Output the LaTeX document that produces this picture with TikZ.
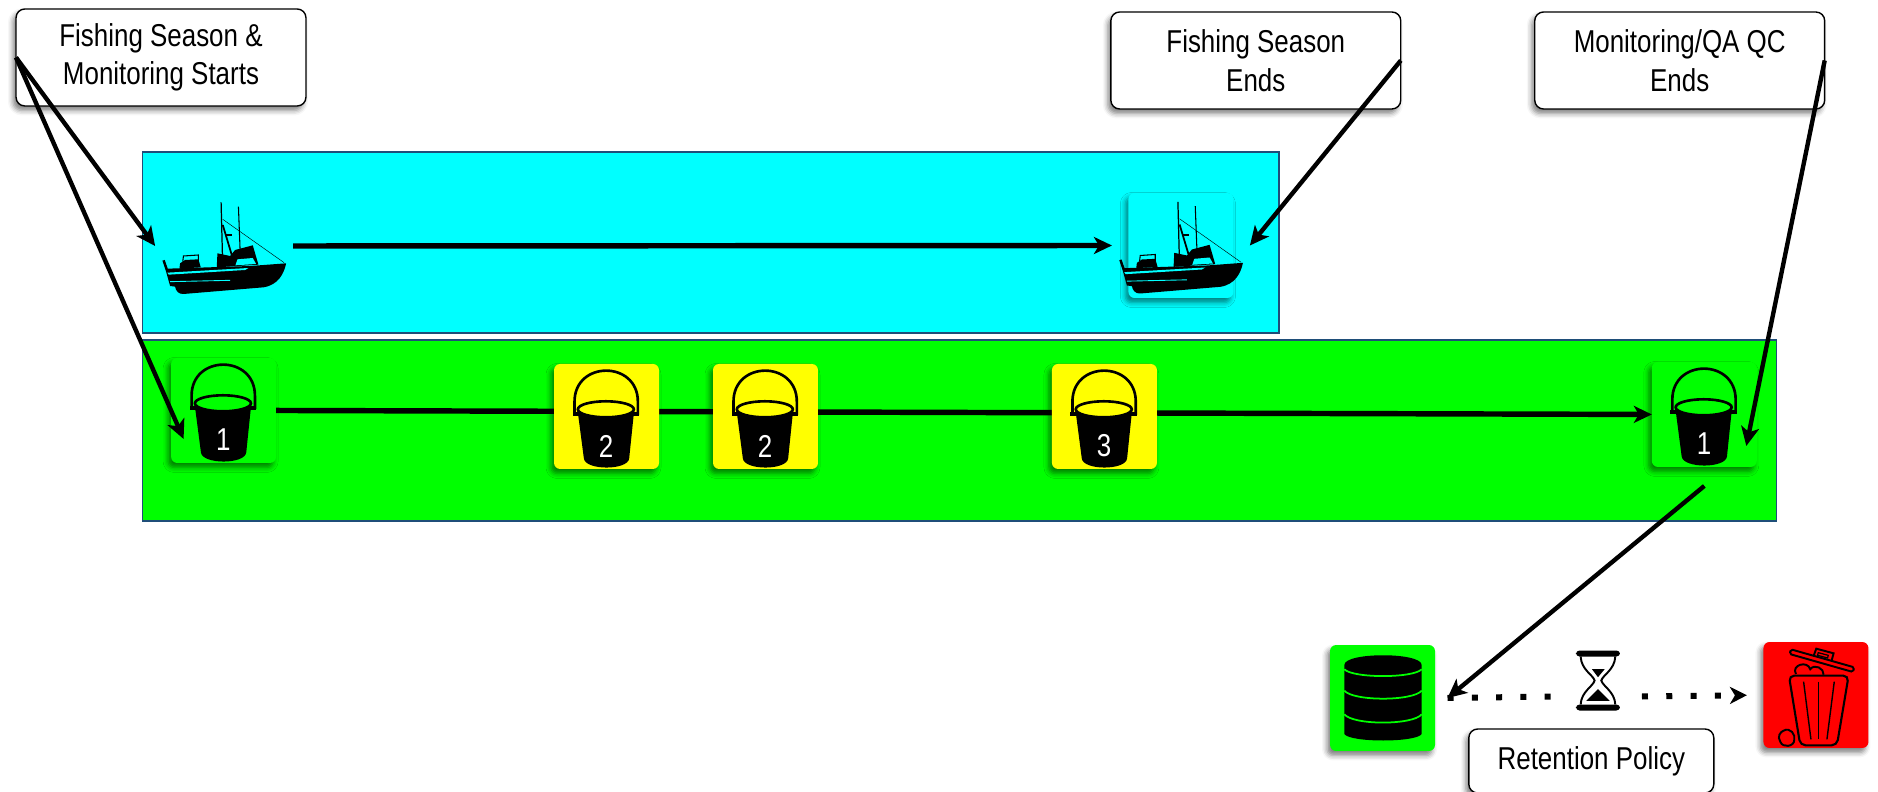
\documentclass[tikz,border=0pt]{standalone}
\usepackage{fontspec}
\setmainfont[FakeStretch=0.82]{Liberation Sans}
\usepackage{tikz}
\usetikzlibrary{positioning}
\usetikzlibrary{arrows.meta}
\usetikzlibrary{shadows.blur}
\definecolor{bandline}{HTML}{1F4E79}
\definecolor{seacyan}{RGB}{0,255,255}
\definecolor{okgreen}{RGB}{0,255,0}
\definecolor{warnyellow}{RGB}{255,255,0}
\definecolor{purgered}{RGB}{255,0,0}

\begin{document}
\begin{tikzpicture}[
        x=0.02cm, y=0.02cm,
        softshadow/.style={blur shadow={shadow xshift=-0.06cm, shadow yshift=-0.09cm, shadow blur radius=0.1cm, shadow opacity=50}},
        note/.style={rectangle, draw, fill=white, line width=0.8pt, rounded corners=5pt, minimum width=5.8cm, minimum height=1.94cm, align=center, outer sep=0pt, font=\fontsize{18}{22}\selectfont, execute at begin node={\vspace{0.14cm}}, softshadow},
        band/.style={rectangle, draw=bandline, line width=0.7pt, minimum height=3.62cm, outer sep=0pt},
        tile/.style={rectangle, rounded corners=3.5pt, minimum width=2.1cm, minimum height=2.1cm, outer sep=0pt, softshadow},
        port/.style={rectangle, minimum width=2.76cm, minimum height=2cm, outer sep=0pt},
        numeral/.style={text=white, inner sep=0pt, font=\fontsize{18}{18}\selectfont},
        arrow/.style={line width=2.5pt,-{Stealth[length=3.8mm,width=3.6mm,inset=1mm]}},
        mainline/.style={line width=3.1pt,-{Stealth[length=3.6mm,width=3.4mm,inset=1mm]}},
        dots/.style={line width=0.12cm, dash pattern=on 0.12cm off 0.366cm},
        pics/bucket/.style 2 args={code={
            \begin{scope}[xscale=1/3, yscale=-1/3, shift={(-200,-199.5)}]
                \draw[line width=1.5pt] (104,195) -- (104,155) .. controls (104,31) and (294,31) .. (294,155) -- (294,195);
                \fill (98,185) rectangle (298,198);
                \fill (113,180) -- (132,325) .. controls (135,362) and (265,362) .. (268,325) -- (283,180) -- cycle;
                \filldraw[fill=#2, line width=1.5pt] (198,178) ellipse[x radius=84, y radius=24];
                \node[numeral] (num) at (199,288) {#1};
            \end{scope}
        }},
        pics/boat/.style={code={
            \begin{scope}[xscale=1/3, yscale=-1/3, shift={(-282,-228)}]
                \fill (97,272) -- (104,270) -- (113,296) -- (360,288) -- (468,280) .. controls (462,310) and (445,345) .. (400,352) -- (160,372) .. controls (145,373) and (137,362) .. (135,350) -- (120,348) -- (108,305) -- cycle;
                \fill[seacyan] (112,308) -- (355,294) -- (345,300) -- (116,314) -- cycle;
                \draw[seacyan, line width=0.5pt] (120,335) -- (300,331);
                \fill (148,296) -- (150,280) -- (165,270) -- (205,268) -- (212,292) -- cycle;
                \draw[line width=0.6pt] (158,275) -- (160,258) -- (205,255) -- (205,280);
                \fill (260,292) -- (262,250) -- (300,258) -- (315,240) -- (368,226) -- (385,284) -- cycle;
                \fill[seacyan] (316,286) -- (322,268) -- (368,264) -- (378,282) -- cycle;
                \draw[line width=0.7pt] (273,97) -- (277,255);
                \draw[line width=0.6pt] (325,110) -- (330,240);
                \draw[line width=1pt] (278,165) -- (305,255);
                \draw[line width=0.25pt] (278,148) -- (462,278);
                \fill (285,193) rectangle (305,199);
            \end{scope}
        }},
        pics/database/.style={code={
            \begin{scope}[xscale=1/3, yscale=-1/3, shift={(-217.5,-204)}]
                \fill (103,105) -- (103,312) .. controls (120,338) and (318,338) .. (335,312) -- (335,105) .. controls (335,66) and (103,66) .. (103,105) -- cycle;
                \draw[okgreen, line width=1pt] (103,118) .. controls (130,145) and (308,145) .. (335,118);
                \draw[okgreen, line width=1pt] (103,182) .. controls (130,214) and (308,214) .. (335,182);
                \draw[okgreen, line width=1pt] (103,253) .. controls (130,286) and (308,286) .. (335,253);
            \end{scope}
        }},
        pics/sandglass/.style={code={
            \begin{scope}[xscale=1/3, yscale=-1/3, shift={(-60,-200)}]
                \fill[rounded corners=2pt] (-6,62) rectangle (126,80);
                \fill[rounded corners=2pt] (-6,224) rectangle (126,242);
                \draw[line width=1.1pt] (8,80) .. controls (10,120) and (45,135) .. (50,152) .. controls (45,170) and (10,185) .. (8,224);
                \draw[line width=1.1pt] (112,80) .. controls (110,120) and (75,135) .. (70,152) .. controls (75,170) and (110,185) .. (112,224);
                \fill (42,118) -- (80,118) -- (60,142) -- cycle;
                \fill (60,178) -- (95,213) -- (25,213) -- cycle;
            \end{scope}
        }},
        pics/trashbin/.style={code={
            \begin{scope}[xscale=1/3, yscale=-1/3, shift={(-715,-195)}]
                \draw[line width=1.1pt, rounded corners=1pt] (640,58) -- (830,112) -- (826,126) -- (636,72) -- cycle;
                \draw[line width=1.1pt] (708,78) -- (716,56) -- (768,70) -- (762,92);
                \draw[line width=0.7pt] (722,68) -- (752,76) -- (750,84) -- (720,76) -- cycle;
                \draw[line width=1.1pt] (655,132) .. controls (640,105) and (690,90) .. (698,118) .. controls (710,100) and (740,115) .. (738,134);
                \draw[line width=1.2pt, rounded corners=3pt] (634,137) -- (813,137) -- (778,346) -- (668,346) -- cycle;
                \draw[line width=0.8pt] (678,155) -- (700,328);
                \draw[line width=0.8pt] (723,155) -- (723,328);
                \draw[line width=0.8pt] (770,155) -- (748,328);
                \draw[line width=1.1pt] (618,302) .. controls (638,290) and (655,315) .. (650,330) .. controls (650,350) and (615,355) .. (608,335) .. controls (598,320) and (608,305) .. (618,302) -- cycle;
            \end{scope}
        }}
    ]
        \useasboundingbox (0,0) rectangle (1878,791);

        % Bands
        \node[band, fill=seacyan, minimum width=22.74cm] (fishband) at (710.5,548.5) {};
        \node[band, fill=okgreen, minimum width=32.7cm] (samplingband) [below=0.14cm of fishband.south west, anchor=north west] {};

        % Notes
        \node[note] (seasonstart) at (161,733.5) {Fishing Season \&\\Monitoring Starts};
        \node[note] (seasonend) [right=16.1cm of seasonstart, yshift=-0.06cm] {Fishing Season\\Ends};
        \node[note] (qaend) [right=2.68cm of seasonend] {Monitoring/QA QC\\Ends};

        % Boats
        \node[port] (boatA) [right=0.26cm of fishband.west, yshift=-0.07cm] {};
        \node[port] (boatB) [left=0.58cm of fishband.east, yshift=-0.06cm] {};
        \node[tile, fill=seacyan] (boatBtile) at (boatB) {};
        \pic at (boatA) {boat};
        \pic at (boatB) {boat};

        % Buckets
        \node[tile, fill=okgreen] (bucketA) [right=0.58cm of samplingband.west, yshift=0.4cm] {};
        \node[tile, fill=okgreen] (bucketE) [left=0.4cm of samplingband.east, yshift=0.32cm] {};
        \draw[mainline] (bucketA.east) -- (bucketE.west);
        \node[tile, fill=warnyellow] (bucketB) [right=5.56cm of bucketA, yshift=-0.12cm] {};
        \node[tile, fill=warnyellow] (bucketC) [right=1.08cm of bucketB] {};
        \node[tile, fill=warnyellow] (bucketD) [right=4.68cm of bucketC] {};
        \pic (pailA) at (bucketA) {bucket={1}{okgreen}};
        \pic (pailB) at (bucketB) {bucket={2}{warnyellow}};
        \pic (pailC) at (bucketC) {bucket={2}{warnyellow}};
        \pic (pailD) at (bucketD) {bucket={3}{warnyellow}};
        \pic (pailE) at (bucketE) {bucket={1}{okgreen}};

        % Retention
        \node[tile, fill=okgreen, minimum height=2.12cm] (dbtile) at (1382.5,93) {};
        \node[port, minimum width=1.76cm] (hourglass) [right=2.38cm of dbtile, yshift=0.03cm] {};
        \node[tile, fill=purgered, minimum height=2.12cm] (bintile) [right=2.43cm of hourglass, yshift=0.03cm] {};
        \node[note, minimum width=4.9cm, minimum height=1.28cm, execute at begin node={}] (retention) at (1591.3,30) {Retention Policy};
        \pic at (dbtile) {database};
        \pic at (hourglass) {sandglass};
        \pic at (bintile) {trashbin};

        % Free ends
        \coordinate[below left=0.57cm and 0.8cm of bucketA.center] (bucketAin);
        \coordinate[below right=0.63cm and 0.84cm of bucketE.center] (bucketEin);
        \coordinate[below=0.38cm of bucketE.south] (bucketEout);
        \coordinate[right=0.25cm of dbtile.east] (dbin);

        % Connections
        \draw[mainline] (boatA.east) -- (boatB.west);
        \draw[arrow] (seasonstart.west) -- (boatA.west);
        \draw[arrow] (seasonstart.west) -- (bucketAin);
        \draw[arrow] (seasonend.east) -- (boatB.east);
        \draw[arrow] (qaend.east) -- (bucketEin);
        \draw[arrow] (bucketEout) -- (dbin);
        \draw[dots] (dbin) -- (hourglass.west);
        \draw[dots, -{Stealth[length=3.4mm,width=3.4mm,inset=1mm]}, shorten >=0.33cm] (hourglass.east) -- (bintile.west);
    \end{tikzpicture}
\end{document}
